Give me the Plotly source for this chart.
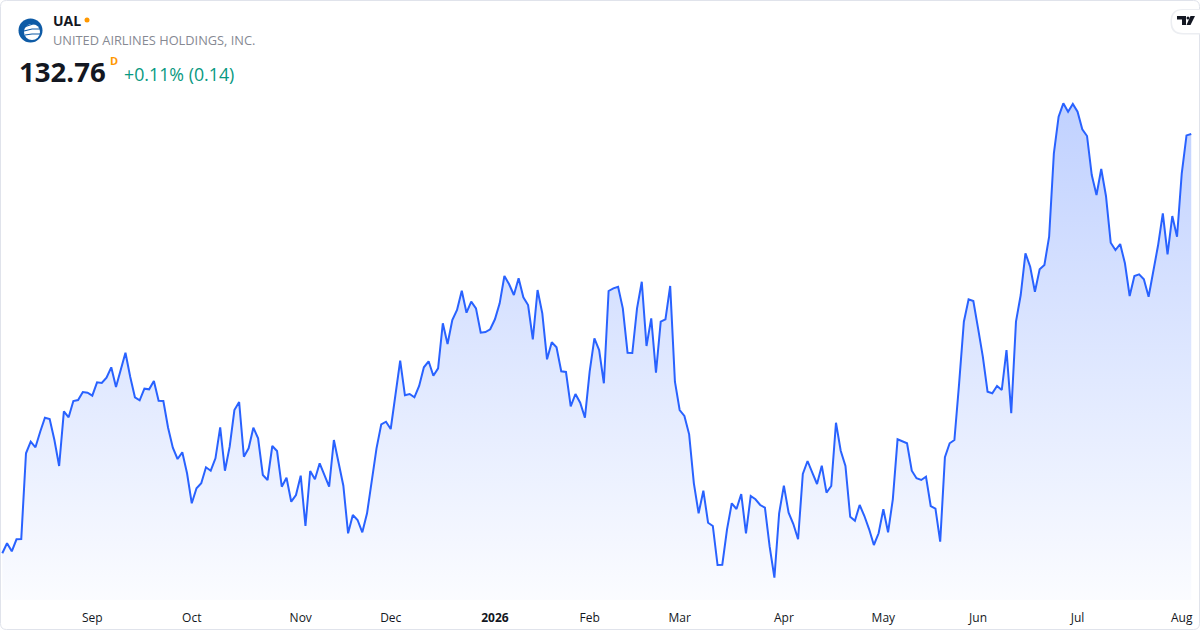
import pandas as pd
import plotly.graph_objects as go

W, H = 1200, 630
PLOT_TOP, PLOT_BOTTOM = 90, 600

# --- data (daily closes) ---
START_DATE = "2025-08-05"
MARKET_HOLIDAYS = [
    "2025-09-01", "2025-11-27", "2025-12-25", "2026-01-01", "2026-01-19",
    "2026-02-16", "2026-04-03", "2026-05-25", "2026-06-19", "2026-07-03",
]
CLOSES = [
    90.83, 91.83, 91.03, 92.23, 92.26, 100.83, 101.99, 101.43, 102.99, 104.39,
    104.26, 102.16, 99.56, 105.03, 104.43, 106.06, 106.16, 106.96, 106.89, 106.59,
    107.93, 107.86, 108.39, 109.43, 107.46, 109.16, 110.89, 108.49, 106.43, 106.13,
    107.29, 107.23, 108.06, 106.09, 106.06, 103.39, 101.39, 100.26, 100.93, 98.83,
    95.83, 97.33, 97.83, 99.43, 99.09, 100.33, 103.43, 99.09, 101.49, 105.16,
    105.96, 100.49, 101.33, 103.39, 102.33, 98.66, 98.16, 101.56, 101.06, 97.49,
    98.39, 95.99, 96.66, 98.59, 93.56, 99.06, 98.23, 99.83, 98.66, 97.49,
    102.16, 99.73, 97.59, 92.83, 94.66, 94.16, 92.93, 94.83, 98.16, 101.33,
    103.73, 103.99, 103.26, 106.49, 110.09, 106.63, 106.76, 106.43, 107.56, 109.43,
    110.03, 108.59, 109.33, 113.83, 111.76, 114.16, 115.16, 117.09, 114.89, 115.99,
    115.33, 112.89, 112.96, 113.23, 114.23, 115.83, 118.56, 117.73, 116.66, 118.33,
    116.43, 115.66, 112.23, 117.16, 114.83, 110.23, 111.93, 111.43, 109.03, 108.96,
    105.53, 106.76, 105.89, 104.39, 108.99, 112.33, 111.16, 107.83, 117.06, 117.33,
    117.49, 115.33, 110.89, 110.86, 115.33, 117.99, 111.56, 114.33, 108.89, 113.99,
    114.23, 117.56, 107.99, 105.16, 104.56, 102.73, 97.83, 94.83, 97.09, 93.89,
    93.56, 89.66, 89.69, 93.23, 95.83, 95.26, 96.76, 92.83, 96.56, 96.23,
    95.66, 95.39, 91.49, 88.39, 94.83, 97.59, 94.89, 93.76, 92.23, 98.76,
    100.06, 98.89, 97.76, 99.59, 96.89, 97.56, 103.89, 101.09, 99.56, 94.49,
    94.09, 95.66, 94.56, 93.23, 91.66, 92.83, 95.23, 92.93, 96.23, 102.23,
    101.99, 101.83, 99.09, 98.33, 98.16, 98.49, 95.56, 95.29, 91.99, 100.43,
    101.83, 102.16, 107.83, 113.99, 116.23, 116.06, 113.33, 110.49, 106.99, 106.83,
    107.56, 107.16, 111.16, 104.83, 113.99, 116.66, 120.83, 119.49, 116.99, 119.23,
    119.66, 122.49, 130.83, 134.49, 135.83, 134.99, 135.76, 134.99, 133.23, 132.56,
    128.66, 126.66, 129.26, 126.56, 121.89, 121.16, 121.76, 119.83, 116.56, 118.56,
    118.73, 118.23, 116.49, 118.99, 121.63, 124.83, 120.73, 124.56, 122.49, 128.83,
    132.62, 132.76,
]
MONTH_LABELS = ["Sep", "Oct", "Nov", "Dec", "2026", "Feb", "Mar", "Apr", "May", "Jun", "Jul", "Aug"]
LAST_PRICE = "132.76"
CHANGE_TEXT = "+0.11% (0.14)"
Y_RANGE = [86.16, 137.16]
X_RANGE = [-0.486, 252.85]


def pp(x, y):
    """pixel -> paper coords (plot area spans full width, PLOT_TOP..PLOT_BOTTOM)"""
    return x / W, (PLOT_BOTTOM - y) / (PLOT_BOTTOM - PLOT_TOP)


def path(points, close=True):
    parts = []
    for i, (x, y) in enumerate(points):
        px, py = pp(x, y)
        parts.append(f"{'M' if i == 0 else 'L'}{px:.5f},{py:.5f}")
    return " ".join(parts) + (" Z" if close else "")


def rounded_rect(x0, y0, x1, y1, r):
    def p(x, y):
        a, b = pp(x, y)
        return f"{a:.5f},{b:.5f}"
    return (f"M{p(x0 + r, y0)} L{p(x1 - r, y0)} Q{p(x1, y0)} {p(x1, y0 + r)} "
            f"L{p(x1, y1 - r)} Q{p(x1, y1)} {p(x1 - r, y1)} L{p(x0 + r, y1)} "
            f"Q{p(x0, y1)} {p(x0, y1 - r)} L{p(x0, y0 + r)} Q{p(x0, y0)} {p(x0 + r, y0)} Z")


dates = pd.bdate_range(START_DATE, periods=len(CLOSES), freq="C", holidays=MARKET_HOLIDAYS)
x_vals = dates.strftime("%Y-%m-%d").tolist()
firsts = dates.to_series().groupby(dates.to_period("M")).first()
tick_vals = [d.strftime("%Y-%m-%d") for d in firsts.iloc[1:]]
tick_text = [f"<b>{t}</b>" if t.isdigit() else t for t in MONTH_LABELS]

fig = go.Figure()
fig.add_trace(go.Scatter(
    x=x_vals,
    y=CLOSES,
    mode="lines",
    line=dict(color="#2962FF", width=2),
    fill="tozeroy",
    fillgradient=dict(
        type="vertical",
        colorscale=[[0, "rgba(41,98,255,0.02)"], [1, "rgba(41,98,255,0.30)"]],
        start=Y_RANGE[0],
        stop=Y_RANGE[1],
    ),
    hoverinfo="skip",
))

font = "Open Sans, Roboto, sans-serif"
shapes = [
    # card border
    dict(type="path", xref="paper", yref="paper", path=rounded_rect(0.5, 0.5, 1199.5, 629.5, 6),
         line=dict(color="#e0e3eb", width=1), fillcolor="rgba(0,0,0,0)", layer="above"),
    # logo
    dict(type="circle", xref="paper", yref="paper",
         x0=pp(18.5, 0)[0], x1=pp(42.5, 0)[0], y0=pp(0, 42.5)[1], y1=pp(0, 18.5)[1],
         fillcolor="#0e5ba6", line=dict(width=0)),
    dict(type="circle", xref="paper", yref="paper",
         x0=pp(24, 0)[0], x1=pp(40, 0)[0], y0=pp(0, 40)[1], y1=pp(0, 24)[1],
         fillcolor="#ffffff", line=dict(width=0)),
    # orange status dot
    dict(type="circle", xref="paper", yref="paper",
         x0=pp(84.5, 0)[0], x1=pp(89.5, 0)[0], y0=pp(0, 22.5)[1], y1=pp(0, 17.5)[1],
         fillcolor="#ff9800", line=dict(width=0)),
    # tradingview badge
    dict(type="path", xref="paper", yref="paper", path=rounded_rect(1170.5, 9, 1215, 34.5, 12),
         fillcolor="#eceef2", line=dict(width=0)),
    dict(type="path", xref="paper", yref="paper", path=rounded_rect(1172, 10, 1215, 33, 11.5),
         fillcolor="#ffffff", line=dict(width=0)),
    dict(type="path", xref="paper", yref="paper",
         path=path([(1177, 16), (1186, 16), (1186, 25), (1182, 25), (1182, 19.5), (1177, 19.5)]),
         fillcolor="#131722", line=dict(width=0)),
    dict(type="circle", xref="paper", yref="paper",
         x0=pp(1186.5, 0)[0], x1=pp(1189.5, 0)[0], y0=pp(0, 19.5)[1], y1=pp(0, 16.5)[1],
         fillcolor="#131722", line=dict(width=0)),
    dict(type="path", xref="paper", yref="paper",
         path=path([(1190.5, 16), (1195, 16), (1190.5, 25), (1186.5, 25)]),
         fillcolor="#131722", line=dict(width=0)),
]
# blue stripes on the globe
for k, (a, b) in enumerate([(24, 27), (24, 31), (25, 35)]):
    shapes.append(dict(type="path", xref="paper", yref="paper",
                       path=path([(a, b), (a + 9 - k, b - 3 + k), (40, 24 + 5 * k)], close=False),
                       line=dict(color="#0e5ba6", width=1.2)))

annotations = [
    dict(text="<b>UAL</b>", x=pp(51, 0)[0], y=pp(0, 20)[1], font=dict(size=14, color="#131722", family=font)),
    dict(text="UNITED AIRLINES HOLDINGS, INC.", x=pp(51, 0)[0], y=pp(0, 40)[1],
         font=dict(size=12.8, color="#868993", family=font)),
    dict(text=f"<b>{LAST_PRICE}</b>", x=pp(17, 0)[0], y=pp(0, 71)[1],
         font=dict(size=27.6, color="#131722", family=font)),
    dict(text="<b>D</b>", x=pp(108, 0)[0], y=pp(0, 61)[1], font=dict(size=11, color="#ff9800", family=font)),
    dict(text=CHANGE_TEXT, x=pp(122, 0)[0], y=pp(0, 74)[1], font=dict(size=17.8, color="#089981", family=font)),
]
for a in annotations:
    a.update(xref="paper", yref="paper", xanchor="left", yanchor="middle", showarrow=False)

fig.update_layout(
    width=W,
    height=H,
    margin=dict(l=0, r=0, t=PLOT_TOP, b=H - PLOT_BOTTOM),
    paper_bgcolor="#ffffff",
    plot_bgcolor="#ffffff",
    showlegend=False,
    xaxis=dict(
        type="category",
        range=X_RANGE,
        tickmode="array",
        tickvals=tick_vals,
        ticktext=tick_text,
        showgrid=False,
        zeroline=False,
        showline=False,
        ticks="",
        ticklabelstandoff=9,
        tickfont=dict(size=12, color="#131722", family=font),
        fixedrange=True,
    ),
    yaxis=dict(visible=False, range=Y_RANGE, fixedrange=True),
    shapes=shapes,
    annotations=annotations,
)

# page has a default 8px body margin; drop it so the card fills the window
fig.write_html("out.html", post_script="document.body.style.margin = '0';",
               config={"displayModeBar": False})
